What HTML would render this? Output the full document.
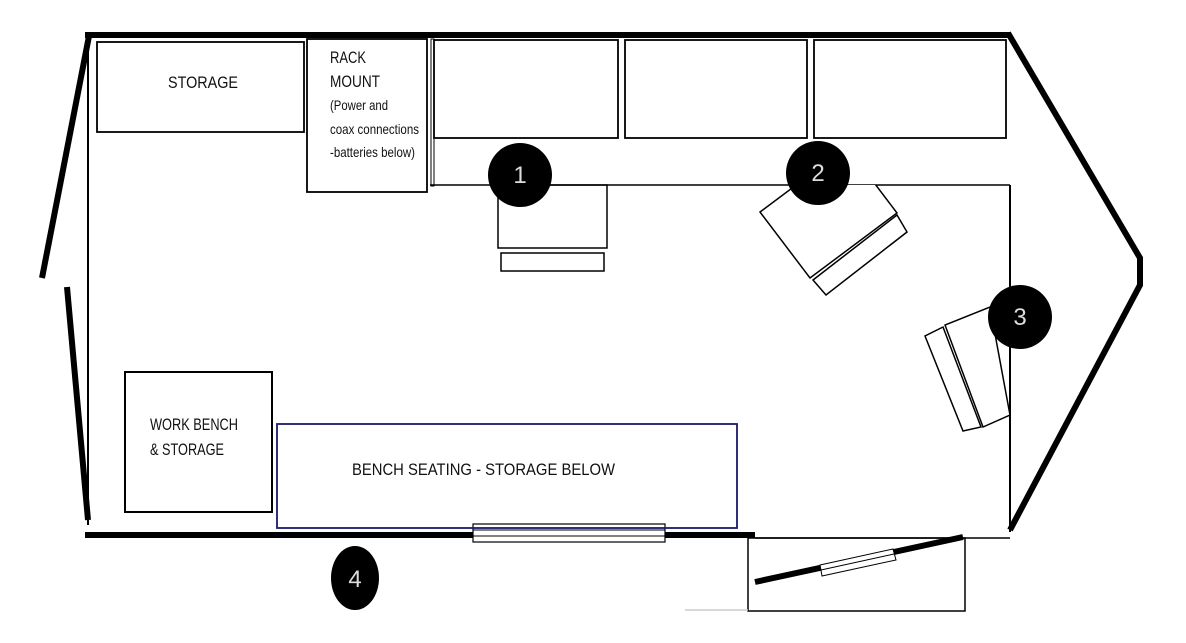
<!DOCTYPE html>
<html><head><meta charset="utf-8"><style>html,body{margin:0;padding:0;background:#fff}svg{display:block}text{font-family:"Liberation Sans",sans-serif;fill:#111}</style></head>
<body>
<svg width="1186" height="643" viewBox="0 0 1186 643" xmlns="http://www.w3.org/2000/svg">
<defs><clipPath id="c2"><rect x="700" y="185" width="300" height="200"/></clipPath></defs>
<g fill="none" stroke="#000">
<line x1="85" y1="35" x2="1010" y2="35" stroke-width="6"/>
<line x1="89" y1="36" x2="42" y2="278" stroke-width="6"/>
<line x1="67" y1="287" x2="88" y2="520" stroke-width="6"/>
<line x1="88" y1="38" x2="88" y2="525" stroke-width="2"/>
<line x1="85" y1="535" x2="478" y2="535" stroke-width="6"/>
<line x1="660" y1="535" x2="755" y2="535" stroke-width="6"/>
<polyline points="1008,33 1140,258 1140,285 1010,530" stroke-width="6" stroke-linejoin="miter"/>
<line x1="1010" y1="185" x2="1010" y2="532" stroke-width="2"/>
<line x1="430" y1="185" x2="1010" y2="185" stroke-width="1.5"/>
<line x1="755" y1="538" x2="1010" y2="538" stroke-width="1.5"/>
<rect x="473" y="524" width="192" height="18" fill="#fff" stroke-width="1.2"/>
<line x1="473" y1="530" x2="665" y2="530" stroke-width="1"/>
<line x1="473" y1="536" x2="665" y2="536" stroke-width="1"/>
<rect x="97" y="42" width="207" height="90" stroke-width="1.8"/>
<rect x="307" y="39" width="120" height="153" stroke-width="1.8"/>
<rect x="431" y="39" width="3" height="147" stroke-width="1"/>
<rect x="434" y="40" width="184" height="98" stroke-width="1.8"/>
<rect x="625" y="40" width="182" height="98" stroke-width="1.8"/>
<rect x="814" y="40" width="192" height="98" stroke-width="1.8"/>
<rect x="498" y="185" width="109" height="63" stroke-width="1.5"/>
<rect x="501" y="253" width="103" height="18" stroke-width="1.5"/>
<polygon points="760,212 810,278 897,213 847,147" fill="#fff" stroke-width="1.5" clip-path="url(#c2)"/>
<polygon points="813,280 826,295 907,232 897,215" stroke-width="1.5"/>
<polygon points="945,325 983,427 1010,415 990,307" stroke-width="1.5"/>
<polygon points="925,336 963,431 981,427 943,327" stroke-width="1.5"/>
<rect x="125" y="372" width="147" height="140" stroke-width="2"/>
<rect x="277" y="424" width="460" height="104" stroke="#1a1a6a" stroke-width="1.8"/>
<rect x="748" y="538" width="217" height="73" stroke-width="1.5"/>
<line x1="685" y1="610" x2="748" y2="610" stroke="#ccc" stroke-width="1.5"/>
<line x1="755" y1="582" x2="963" y2="537" stroke-width="6"/>
<polygon points="820,565 893,549 896,560 822,576" fill="#fff" stroke-width="1"/>
<line x1="821" y1="570" x2="894" y2="554" stroke-width="1"/>
</g>
<circle cx="520" cy="175" r="32" fill="#000"/>
<circle cx="818" cy="173" r="32" fill="#000"/>
<circle cx="1020" cy="317" r="32" fill="#000"/>
<ellipse cx="355" cy="578" rx="24" ry="32" fill="#000"/>
<g font-size="24" text-anchor="middle">
<text x="520" y="183" style="fill:#ddd">1</text>
<text x="818" y="181" style="fill:#ddd">2</text>
<text x="1020" y="325" style="fill:#ddd">3</text>
<text x="355" y="587" style="fill:#ddd">4</text>
</g>
<text x="168" y="88" font-size="17" textLength="70" lengthAdjust="spacingAndGlyphs">STORAGE</text>
<text x="330" y="63" font-size="17" textLength="36" lengthAdjust="spacingAndGlyphs">RACK</text>
<text x="330" y="87" font-size="17" textLength="50" lengthAdjust="spacingAndGlyphs">MOUNT</text>
<text x="330" y="110" font-size="14" textLength="58" lengthAdjust="spacingAndGlyphs">(Power and</text>
<text x="330" y="134" font-size="14" textLength="89" lengthAdjust="spacingAndGlyphs">coax connections</text>
<text x="330" y="157" font-size="14" textLength="85" lengthAdjust="spacingAndGlyphs">-batteries below)</text>
<text x="150" y="430" font-size="17" textLength="88" lengthAdjust="spacingAndGlyphs">WORK BENCH</text>
<text x="150" y="455" font-size="17" textLength="74" lengthAdjust="spacingAndGlyphs">&amp; STORAGE</text>
<text x="352" y="475" font-size="17" textLength="263" lengthAdjust="spacingAndGlyphs">BENCH SEATING - STORAGE BELOW</text>
</svg>
</body></html>
